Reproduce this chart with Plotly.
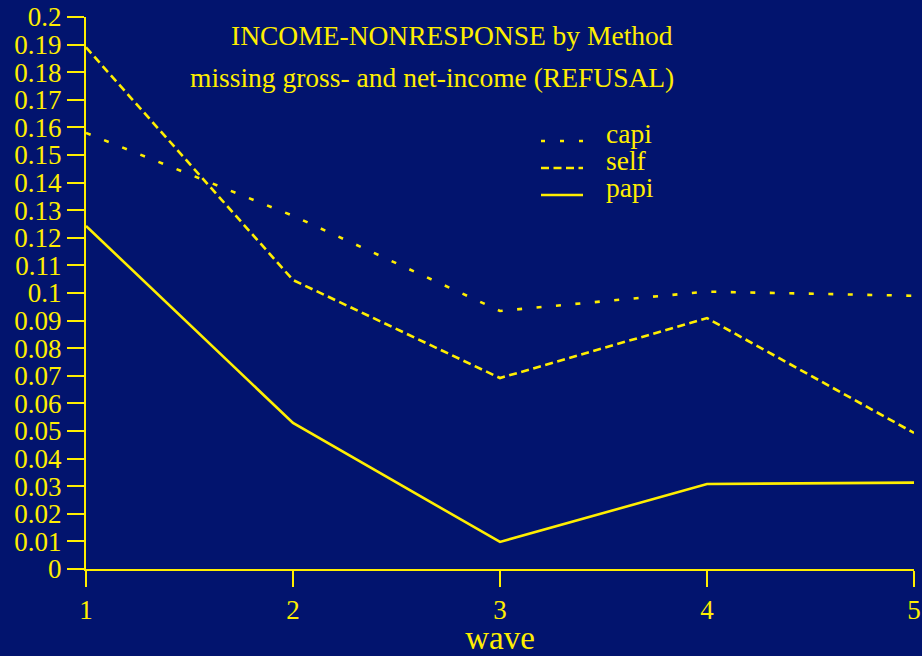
import plotly.graph_objects as go

waves = [1, 2, 3, 4, 5]
capi = [0.158, 0.128, 0.0935, 0.1005, 0.099]
self_ = [0.189, 0.1047, 0.0692, 0.0909, 0.0493]
papi = [0.1243, 0.0529, 0.0098, 0.0308, 0.0313]
ytick_vals = [i / 100 for i in range(21)]
ytick_text = ["0", "0.01", "0.02", "0.03", "0.04", "0.05", "0.06", "0.07", "0.08", "0.09",
              "0.1", "0.11", "0.12", "0.13", "0.14", "0.15", "0.16", "0.17", "0.18", "0.19", "0.2"]
title = "INCOME-NONRESPONSE by Method"
subtitle = "missing gross- and net-income (REFUSAL)"
series_names = ["capi", "self", "papi"]

BG = "#02146E"
YEL = "#FFEE00"
FONT = "Liberation Serif"
dashes = ["5px,14.5px", "8px,4.5px", "solid"]
LW = 2.6

fig = go.Figure()
for name, vals, dash in zip(series_names, [capi, self_, papi], dashes):
    fig.add_trace(go.Scatter(x=waves, y=vals, mode="lines", name=name,
                             line=dict(color=YEL, width=LW, dash=dash), showlegend=False))

def px_x(p):
    return (p - 86) / 828

def px_y(p):
    return (569 - p) / 552

annotations = [
    dict(text=title, x=px_x(452), y=px_y(35), xref="paper", yref="paper",
         showarrow=False, font=dict(family=FONT, size=27.5, color=YEL), xanchor="center", yanchor="middle"),
    dict(text=subtitle, x=px_x(432), y=px_y(77), xref="paper", yref="paper",
         showarrow=False, font=dict(family=FONT, size=27.5, color=YEL), xanchor="center", yanchor="middle"),
]
shapes = []
leg_text_y = [133, 160, 187]
leg_line_y = [141, 168, 195]
leg_dash = ["4px,15px", "8px,4.5px", "solid"]
for name, ty, ly, d in zip(series_names, leg_text_y, leg_line_y, leg_dash):
    annotations.append(dict(text=name, x=px_x(604), y=px_y(ty), xref="paper", yref="paper",
                            showarrow=False, font=dict(family=FONT, size=27.5, color=YEL),
                            xanchor="left", yanchor="middle"))
    shapes.append(dict(type="line", xref="paper", yref="paper", x0=px_x(541), x1=px_x(583),
                       y0=px_y(ly), y1=px_y(ly), line=dict(color=YEL, width=LW, dash=d)))

fig.update_layout(
    width=922, height=656,
    margin=dict(l=86, r=8, t=17, b=87),
    paper_bgcolor=BG, plot_bgcolor=BG,
    font=dict(family=FONT, color=YEL, size=27),
    annotations=annotations, shapes=shapes,
    xaxis=dict(range=[1, 5], tickvals=waves, ticks="outside", ticklen=16, tickwidth=2,
               tickcolor=YEL, showline=True, linecolor=YEL, linewidth=2, showgrid=False,
               zeroline=False, automargin=False, tickfont=dict(family=FONT, size=27, color=YEL),
               title=dict(text="wave", font=dict(family=FONT, size=33, color=YEL), standoff=2)),
    yaxis=dict(range=[0, 0.2], tickvals=ytick_vals, ticktext=ytick_text, ticks="outside",
               ticklen=17, tickwidth=2, tickcolor=YEL, showline=True, linecolor=YEL,
               linewidth=2, showgrid=False, zeroline=False, automargin=False,
               tickfont=dict(family=FONT, size=27, color=YEL)),
)

fig.write_html("out.html", config={"displayModeBar": False},
               post_script="document.body.style.margin='0';document.body.style.overflow='hidden';document.body.style.background='#02146E';")
